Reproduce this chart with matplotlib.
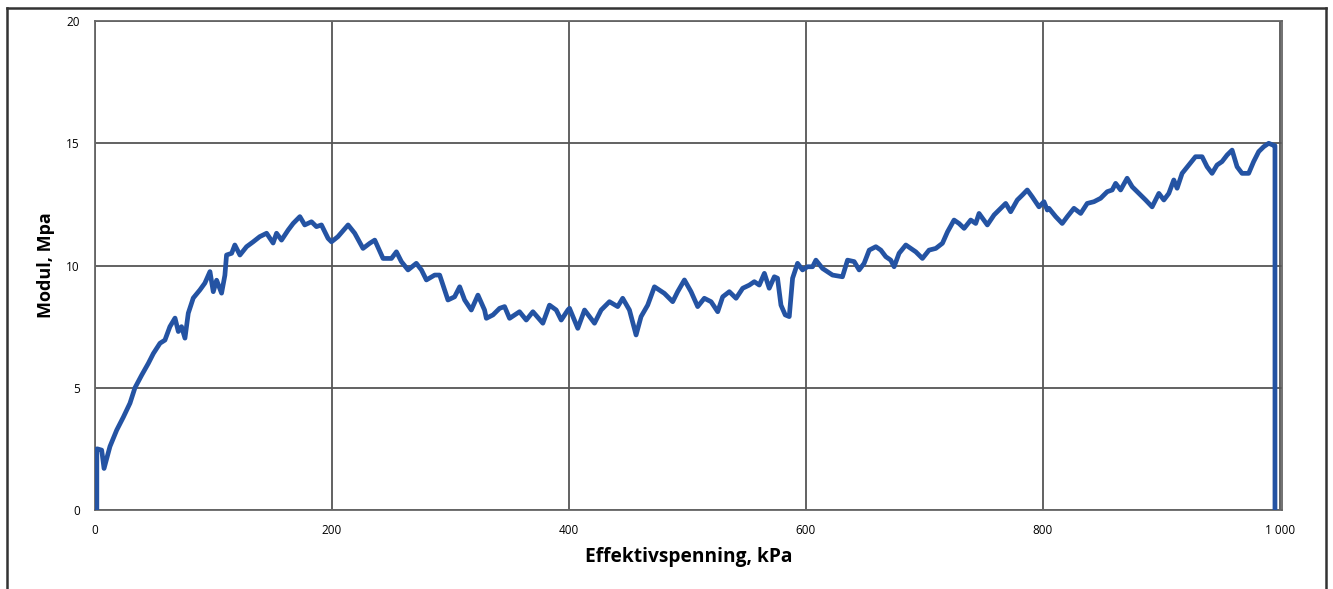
import matplotlib.pyplot as plt
from matplotlib.lines import Line2D

# effective stress (kPa) and modulus (MPa)
stress = [1.5, 1.5, 2, 5.6, 7.6, 12.6, 18.3, 23.9, 29.5, 33.7, 39.4, 45, 49.2, 54.8, 59,
          63.2, 67.5, 70.3, 73, 75.9, 78.7, 82.9, 88.5, 92.7, 97, 99.8, 102.6, 106.8,
          109.6, 111, 115.3, 118, 122.3, 127.9, 133.5, 139, 144.8, 150.3, 153.2, 157.4,
          163, 167.2, 172.9, 177, 182.7, 186.9, 191.1, 196.7, 199.6, 205, 213.6, 219.2,
          226.2, 231.9, 236.1, 243.1, 250.2, 254.4, 258.6, 264.2, 271.2, 275.5, 279.7,
          286.7, 290.9, 297.9, 303.5, 307.8, 312, 317.6, 323.2, 328.8, 330.3, 335.9,
          341.5, 345.7, 349.9, 358.3, 364, 369.6, 378, 383.6, 389.3, 393.5, 399.1,
          400.5, 407.5, 413.2, 421.6, 427.2, 434.2, 441.2, 445.4, 451.1, 456.7, 460.9,
          466.5, 472.2, 480.6, 487.6, 491.8, 497.5, 503.1, 508.7, 514.3, 520, 525.6,
          529.8, 535.4, 541.1, 546.7, 552.3, 556.5, 560.7, 565, 569.1, 573.4, 576.1,
          579, 582.6, 586, 588.8, 593, 597.2, 601.4, 605.7, 608.5, 614.1, 622.5, 630.9,
          635.2, 640.8, 645, 649.2, 653.5, 659.1, 663.3, 667.5, 671.7, 674.5, 678.7,
          684.4, 688.6, 692.8, 698.4, 704, 709.7, 715.3, 719.6, 725.1, 729.3, 733.6,
          739.2, 743.4, 746.2, 753.2, 758.9, 764.5, 768.7, 772.9, 778.5, 782.7, 786.9,
          791.1, 796.8, 801, 803.8, 805.2, 810.9, 816.4, 820.7, 826.3, 832, 837.5,
          843.2, 848.8, 854.4, 858.6, 861.5, 865.7, 871.2, 875.5, 881.1, 886.8, 892.3,
          898, 902.2, 906.4, 910.6, 913.4, 917.6, 923.3, 928.9, 934.5, 938.7, 942.9,
          947.1, 951.3, 955.6, 959.8, 964, 968.2, 973.8, 978, 982.3, 986.5, 990.7,
          994.1, 996, 996]
modul = [0, 2.5, 2.5, 2.45, 1.7, 2.6, 3.27, 3.8, 4.37, 5.0, 5.52, 6.0, 6.4, 6.82, 6.95,
         7.5, 7.85, 7.3, 7.5, 7.03, 8.05, 8.67, 9.0, 9.28, 9.75, 8.93, 9.4, 8.87,
         9.6, 10.43, 10.5, 10.84, 10.43, 10.77, 10.97, 11.18, 11.32, 10.92, 11.32, 11.04,
         11.45, 11.72, 12.0, 11.66, 11.79, 11.59, 11.66, 11.11, 10.97, 11.18, 11.66, 11.32,
         10.7, 10.91, 11.04, 10.29, 10.29, 10.56, 10.16, 9.82, 10.09, 9.82, 9.41,
         9.61, 9.61, 8.59, 8.72, 9.13, 8.59, 8.18, 8.79, 8.18, 7.84, 7.98,
         8.25, 8.32, 7.84, 8.11, 7.77, 8.11, 7.64, 8.38, 8.18, 7.77, 8.18,
         8.25, 7.43, 8.18, 7.64, 8.18, 8.52, 8.32, 8.66, 8.18, 7.16, 7.91,
         8.38, 9.13, 8.86, 8.52, 8.93, 9.41, 8.93, 8.32, 8.66, 8.52, 8.11,
         8.72, 8.93, 8.66, 9.07, 9.2, 9.34, 9.2, 9.68, 9.07, 9.54, 9.48,
         8.38, 7.98, 7.91, 9.48, 10.09, 9.82, 9.95, 9.95, 10.22, 9.88, 9.61, 9.54,
         10.22, 10.16, 9.82, 10.09, 10.63, 10.77, 10.63, 10.36, 10.22, 9.95, 10.5,
         10.84, 10.7, 10.56, 10.29, 10.63, 10.7, 10.91, 11.38, 11.86, 11.72, 11.52,
         11.86, 11.72, 12.13, 11.66, 12.07, 12.34, 12.54, 12.2, 12.68, 12.88, 13.09,
         12.81, 12.4, 12.61, 12.27, 12.34, 12.0, 11.72, 12.0, 12.34, 12.13, 12.54,
         12.61, 12.75, 13.02, 13.09, 13.36, 13.09, 13.57, 13.22, 12.95, 12.68, 12.4,
         12.95, 12.68, 12.95, 13.5, 13.16, 13.77, 14.11, 14.45, 14.45, 14.04, 13.77,
         14.11, 14.25, 14.52, 14.72, 14.04, 13.77, 13.77, 14.25, 14.66, 14.86, 15.0,
         14.93, 14.9, 0]

x_ticks = [0, 200, 400, 600, 800, 1000]
x_labels = ['0', '200', '400', '600', '800', '1 000']
y_ticks = [0, 5, 10, 15, 20]

plt.rcParams['font.family'] = ['Open Sans', 'DejaVu Sans']

fig = plt.figure(figsize=(13.33, 5.89), dpi=100)
ax = fig.add_axes([0.0713, 0.1341, 0.8905, 0.8302])

ax.plot(stress, modul, color='#2453a3', lw=3.4, solid_joinstyle='round', zorder=3)

ax.set_xlim(0, 1002)
ax.set_ylim(0, 20)
ax.set_xticks(x_ticks)
ax.set_xticklabels(x_labels)
ax.set_yticks(y_ticks)
ax.grid(True, color='#555555', lw=1.3)
ax.tick_params(length=0, labelsize=8.5, colors='black')
ax.tick_params(axis='x', pad=10)
ax.tick_params(axis='y', pad=11)
for s in ax.spines.values():
    s.set_color('#666666')
    s.set_linewidth(1.3)

ax.set_xlabel('Effektivspenning, kPa', fontsize=13.8, fontweight='bold', labelpad=7)
ax.set_ylabel('Modul, Mpa', fontsize=13, fontweight='bold', labelpad=8)

# outer frame of the page
fig.add_artist(Line2D([7/1333, 7/1333], [0, 1 - 8/589], color='#333333', lw=1.8))
fig.add_artist(Line2D([7/1333, 1326/1333], [1 - 8/589, 1 - 8/589], color='#333333', lw=1.8))
fig.add_artist(Line2D([1326/1333, 1326/1333], [0, 1 - 8/589], color='#333333', lw=1.8))

fig.savefig('out.png', dpi=100)
